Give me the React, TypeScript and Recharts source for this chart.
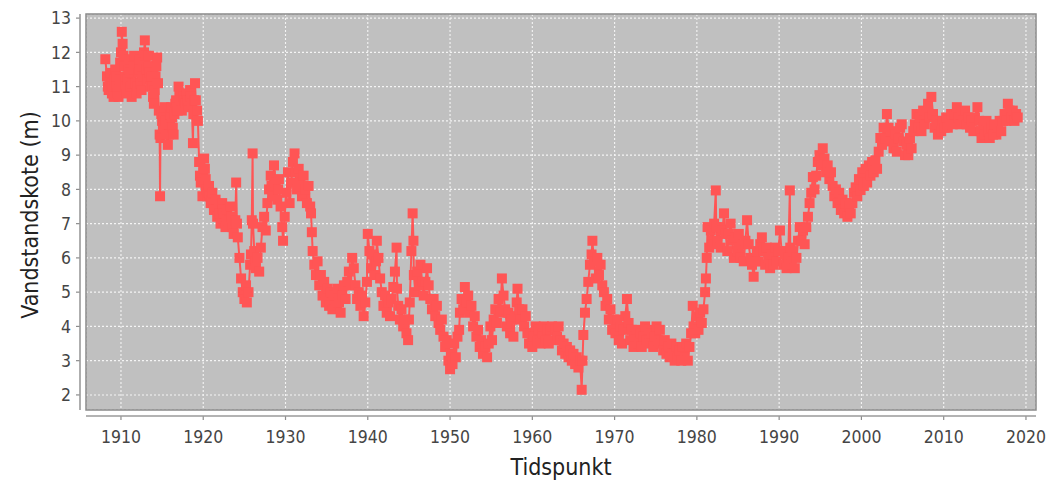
import React from 'react';
import { LineChart, Line, XAxis, YAxis, CartesianGrid } from 'recharts';

const W = 1062;
const H = 482;

const xTicks = [1910, 1920, 1930, 1940, 1950, 1960, 1970, 1980, 1990, 2000, 2010, 2020];
const yTicks = [2, 3, 4, 5, 6, 7, 8, 9, 10, 11, 12, 13];
const xDomain = [1905.75, 2021.22];
const yDomain = [1.56, 13.12];

const xTitle = 'Tidspunkt';
const yTitle = 'Vandstandskote (m)';

const d1900s = [[1908.1,11.8],[1908.3,11.3],[1908.4,11.0],[1908.5,10.9],[1908.6,11.2],[1908.7,11.4],[1908.8,11.1],[1908.9,10.8],[1909.0,11.0],[1909.1,10.7],[1909.2,11.2],[1909.3,11.5],[1909.4,11.3],[1909.5,11.0],[1909.6,10.8],[1909.7,10.7],[1909.8,11.2],[1909.9,11.7]];

const d1910s = [[1910.0,12.0],[1910.1,12.6],[1910.2,12.25],[1910.3,11.9],[1910.4,11.6],[1910.5,11.3],[1910.6,11.0],[1910.7,10.8],[1910.8,11.2],[1910.9,11.5],[1911.0,11.8],[1911.1,11.4],[1911.2,11.0],[1911.3,10.7],[1911.4,11.1],[1911.5,11.6],[1911.6,11.9],[1911.7,11.5],[1911.8,11.1],[1911.9,10.8],[1912.0,11.0],[1912.1,11.4],[1912.2,11.8],[1912.3,11.5],[1912.4,11.1],[1912.5,10.9],[1912.6,11.3],[1912.7,11.7],[1912.8,12.0],[1912.9,12.35],[1913.0,11.9],[1913.1,11.5],[1913.2,11.2],[1913.3,11.6],[1913.4,11.9],[1913.5,11.4],[1913.6,11.0],[1913.7,11.3],[1913.8,11.0],[1913.9,10.7],[1914.0,10.5],[1914.1,10.9],[1914.2,11.3],[1914.3,11.6],[1914.4,11.85],[1914.5,11.1],[1914.6,10.3],[1914.7,9.6],[1914.75,7.8],[1914.8,9.5],[1914.9,10.2],[1915.0,10.0],[1915.1,9.8],[1915.2,10.1],[1915.3,10.4],[1915.4,10.0],[1915.5,9.6],[1915.7,9.3],[1915.8,9.6],[1915.9,9.9],[1916.0,10.2],[1916.1,10.4],[1916.2,10.1],[1916.3,9.8],[1916.4,9.6],[1916.5,10.2],[1916.6,10.5],[1916.7,10.6],[1916.8,10.4],[1916.9,10.3],[1917.0,11.0],[1917.1,10.8],[1917.2,10.6],[1917.4,10.3],[1917.5,10.5],[1917.6,10.7],[1917.7,10.6],[1917.8,10.5],[1918.0,10.8],[1918.1,10.6],[1918.2,10.4],[1918.3,10.6],[1918.4,10.9],[1918.5,10.7],[1918.6,10.5],[1918.75,9.35],[1918.8,10.2],[1918.9,10.6],[1919.0,11.1],[1919.1,10.6],[1919.25,10.3],[1919.35,10.0],[1919.5,8.8],[1919.6,8.4],[1919.7,8.2],[1919.9,7.8]];

const d1920s = [[1920.0,8.5],[1920.1,8.9],[1920.2,8.6],[1920.3,8.3],[1920.4,8.0],[1920.5,7.8],[1920.6,7.9],[1920.7,8.1],[1920.8,7.8],[1920.9,7.6],[1921.0,7.7],[1921.1,7.9],[1921.2,7.6],[1921.3,7.4],[1921.5,7.7],[1921.6,7.4],[1921.7,7.2],[1921.9,7.5],[1922.0,7.3],[1922.1,7.0],[1922.3,7.6],[1922.4,7.4],[1922.5,7.3],[1922.7,6.9],[1922.8,7.2],[1922.9,7.4],[1923.1,7.1],[1923.3,7.5],[1923.4,7.2],[1923.5,6.9],[1923.7,6.7],[1923.9,7.1],[1924.0,8.2],[1924.1,7.0],[1924.2,6.6],[1924.4,6.0],[1924.6,5.4],[1924.8,5.0],[1925.0,4.8],[1925.2,5.2],[1925.3,4.7],[1925.5,5.0],[1925.7,5.8],[1925.8,6.1],[1925.9,7.1],[1926.0,9.05],[1926.05,7.0],[1926.2,6.2],[1926.3,5.9],[1926.4,5.7],[1926.6,6.0],[1926.8,5.6],[1927.0,6.3],[1927.2,6.9],[1927.4,7.2],[1927.6,6.8],[1927.8,7.6],[1928.0,8.0],[1928.2,8.4],[1928.3,8.1],[1928.4,7.8],[1928.6,8.7],[1928.8,8.2],[1929.0,7.7],[1929.1,8.0],[1929.2,8.3],[1929.4,7.5],[1929.6,6.9],[1929.7,6.5],[1929.9,7.2]];

const d1930s = [[1930.1,7.9],[1930.3,8.5],[1930.5,7.6],[1930.7,8.2],[1930.9,8.8],[1931.1,9.05],[1931.2,8.5],[1931.4,8.0],[1931.6,8.6],[1931.8,8.2],[1932.0,7.8],[1932.2,8.4],[1932.4,8.0],[1932.6,7.6],[1932.8,8.1],[1933.0,7.5],[1933.1,7.3],[1933.2,6.75],[1933.3,6.2],[1933.5,5.8],[1933.7,5.5],[1933.9,5.9],[1934.1,5.2],[1934.3,5.5],[1934.5,4.9],[1934.7,5.3],[1934.9,4.7],[1935.1,5.1],[1935.3,4.6],[1935.5,5.0],[1935.7,4.5],[1935.9,4.9],[1936.1,4.6],[1936.3,5.1],[1936.5,4.7],[1936.7,4.4],[1936.9,4.9],[1937.1,5.2],[1937.3,4.8],[1937.5,5.3],[1937.7,5.6],[1937.9,5.2],[1938.1,6.0],[1938.3,5.7],[1938.5,5.2],[1938.7,4.8],[1938.9,5.0],[1939.1,4.6],[1939.3,4.9],[1939.5,4.3],[1939.7,4.7],[1939.9,5.3]];

const d1940s = [[1940.0,6.7],[1940.2,6.2],[1940.4,5.7],[1940.6,6.1],[1940.8,5.5],[1941.0,5.9],[1941.1,6.5],[1941.3,6.0],[1941.5,5.4],[1941.7,5.0],[1941.9,4.6],[1942.1,4.9],[1942.3,4.4],[1942.5,4.7],[1942.7,4.3],[1942.9,4.8],[1943.1,5.15],[1943.3,5.6],[1943.5,6.3],[1943.55,5.1],[1943.7,4.6],[1943.9,4.2],[1944.1,4.5],[1944.3,4.0],[1944.5,4.2],[1944.7,3.8],[1944.9,3.6],[1945.0,4.2],[1945.1,4.7],[1945.3,6.2],[1945.45,7.3],[1945.55,6.5],[1945.6,5.5],[1945.8,5.0],[1946.0,5.6],[1946.2,5.2],[1946.4,5.8],[1946.6,5.3],[1946.8,4.9],[1947.0,5.3],[1947.2,5.7],[1947.4,5.2],[1947.6,4.8],[1947.8,4.5],[1948.0,4.8],[1948.2,4.3],[1948.4,4.6],[1948.6,4.1],[1948.8,3.9],[1949.0,4.2],[1949.2,3.7],[1949.4,3.4],[1949.6,3.6],[1949.8,3.0]];

const d1950s = [[1950.0,2.75],[1950.1,3.2],[1950.3,2.9],[1950.5,3.5],[1950.7,3.1],[1950.9,3.7],[1951.1,3.9],[1951.2,4.4],[1951.4,4.8],[1951.6,4.5],[1951.8,5.15],[1952.0,4.7],[1952.2,4.9],[1952.4,4.4],[1952.6,4.6],[1952.8,4.0],[1953.0,4.3],[1953.2,3.7],[1953.4,3.9],[1953.6,3.4],[1953.8,3.6],[1954.0,3.2],[1954.3,3.4],[1954.5,3.1],[1954.7,3.5],[1954.9,4.0],[1955.1,3.6],[1955.3,4.2],[1955.5,4.5],[1955.7,4.1],[1955.9,4.8],[1956.1,4.4],[1956.3,5.4],[1956.5,4.9],[1956.7,4.5],[1956.9,4.0],[1957.1,4.4],[1957.3,3.8],[1957.5,4.2],[1957.7,3.7],[1957.9,4.3],[1958.1,4.7],[1958.2,5.1],[1958.4,4.5],[1958.6,4.2],[1958.8,4.5],[1959.0,4.0],[1959.2,4.3],[1959.4,3.8],[1959.6,3.5],[1959.8,3.8]];

const d1960s = [[1960.0,3.4],[1960.2,3.7],[1960.4,4.0],[1960.6,3.6],[1960.8,3.9],[1961.0,3.5],[1961.2,3.8],[1961.4,4.0],[1961.6,3.6],[1961.8,3.9],[1962.0,3.5],[1962.2,3.9],[1962.4,4.0],[1962.6,3.6],[1962.8,3.9],[1963.0,3.7],[1963.2,4.0],[1963.4,3.6],[1963.6,3.3],[1963.8,3.5],[1964.0,3.2],[1964.2,3.4],[1964.4,3.1],[1964.6,3.3],[1964.8,3.0],[1965.0,3.2],[1965.2,2.9],[1965.4,3.1],[1965.6,2.8],[1965.8,3.0],[1966.0,2.15],[1966.1,3.0],[1966.2,3.75],[1966.4,4.4],[1966.6,4.8],[1966.8,5.3],[1967.0,5.8],[1967.2,6.1],[1967.3,6.5],[1967.5,5.9],[1967.7,5.4],[1967.9,6.0],[1968.1,5.5],[1968.3,5.8],[1968.5,5.2],[1968.7,5.0],[1968.9,4.6],[1969.1,4.8],[1969.3,4.2],[1969.5,4.5],[1969.7,3.9],[1969.9,4.2]];

const d1970s = [[1970.1,3.8],[1970.3,4.2],[1970.5,3.6],[1970.7,4.0],[1970.9,3.5],[1971.1,3.9],[1971.3,4.3],[1971.5,4.8],[1971.7,4.1],[1971.9,3.6],[1972.1,3.9],[1972.3,3.4],[1972.5,3.7],[1972.7,3.9],[1972.9,3.5],[1973.1,3.8],[1973.3,3.4],[1973.5,3.7],[1973.7,4.0],[1973.9,3.6],[1974.1,3.9],[1974.3,3.5],[1974.5,3.8],[1974.7,3.4],[1974.9,3.7],[1975.1,4.0],[1975.3,3.6],[1975.5,3.9],[1975.7,3.5],[1975.9,3.3],[1976.1,3.6],[1976.3,3.2],[1976.5,3.4],[1976.7,3.1],[1976.9,3.5],[1977.1,3.2],[1977.3,3.0],[1977.5,3.4],[1977.7,3.1],[1977.9,3.3],[1978.1,3.0],[1978.3,3.4],[1978.5,3.1],[1978.7,3.5],[1978.9,3.0],[1979.1,3.4],[1979.3,3.8],[1979.5,4.6],[1979.6,4.0],[1979.8,3.8]];

const d1980s = [[1980.0,4.3],[1980.2,3.9],[1980.4,4.4],[1980.6,4.1],[1980.8,4.5],[1981.0,5.0],[1981.1,5.4],[1981.2,6.0],[1981.3,6.9],[1981.5,6.3],[1981.7,6.8],[1981.9,6.4],[1982.1,7.0],[1982.3,7.97],[1982.35,6.9],[1982.5,6.5],[1982.7,6.9],[1982.9,6.3],[1983.1,6.8],[1983.3,7.3],[1983.5,6.7],[1983.7,6.2],[1983.9,6.7],[1984.1,7.0],[1984.3,6.5],[1984.5,6.0],[1984.7,6.6],[1984.9,6.2],[1985.1,6.7],[1985.3,6.0],[1985.5,6.4],[1985.7,5.9],[1985.9,6.5],[1986.1,7.1],[1986.3,6.4],[1986.5,6.0],[1986.7,5.8],[1986.9,5.45],[1987.1,5.9],[1987.3,6.2],[1987.5,5.9],[1987.7,6.4],[1987.9,6.6],[1988.1,6.2],[1988.3,5.8],[1988.5,6.3],[1988.7,6.0],[1988.9,5.7],[1989.1,6.1],[1989.3,5.8],[1989.5,6.3],[1989.7,5.9],[1989.9,6.2]];

const d1990s = [[1990.1,6.8],[1990.3,6.2],[1990.5,5.8],[1990.7,6.1],[1990.9,5.7],[1991.1,6.0],[1991.3,7.97],[1991.35,6.3],[1991.5,5.8],[1991.7,6.2],[1991.9,5.7],[1992.1,6.0],[1992.3,6.5],[1992.5,6.9],[1992.7,6.5],[1992.9,6.8],[1993.1,6.4],[1993.3,6.9],[1993.5,7.2],[1993.7,7.6],[1993.9,7.9],[1994.1,8.36],[1994.3,8.0],[1994.5,8.4],[1994.7,8.8],[1994.9,9.0],[1995.1,8.7],[1995.3,9.2],[1995.5,8.9],[1995.7,8.5],[1995.9,8.7],[1996.1,8.3],[1996.3,8.5],[1996.5,8.1],[1996.7,7.8],[1996.9,8.0],[1997.1,7.6],[1997.3,7.9],[1997.5,7.4],[1997.7,7.7],[1997.9,7.3],[1998.1,7.6],[1998.3,7.2],[1998.5,7.5],[1998.7,7.3],[1998.9,7.6],[1999.1,7.9],[1999.3,8.06],[1999.5,7.8],[1999.7,8.3],[1999.9,7.98]];

const d2000s = [[2000.1,8.5],[2000.3,8.1],[2000.5,8.6],[2000.7,8.2],[2000.9,8.7],[2001.1,8.4],[2001.3,8.8],[2001.5,8.5],[2001.7,8.85],[2001.9,8.6],[2002.1,9.1],[2002.3,9.5],[2002.5,9.3],[2002.7,9.8],[2002.9,9.5],[2003.1,10.2],[2003.3,9.8],[2003.5,9.4],[2003.7,9.7],[2003.9,9.2],[2004.1,9.6],[2004.3,9.1],[2004.5,9.5],[2004.7,9.8],[2004.9,9.9],[2005.1,9.4],[2005.3,9.0],[2005.5,9.3],[2005.7,9.0],[2005.9,9.5],[2006.1,9.2],[2006.3,9.7],[2006.5,9.9],[2006.7,10.2],[2006.9,9.8],[2007.1,10.1],[2007.3,9.7],[2007.5,10.3],[2007.7,9.9],[2007.9,10.2],[2008.1,10.5],[2008.3,10.1],[2008.5,10.7],[2008.7,10.2],[2008.9,9.8],[2009.1,10.0],[2009.3,9.6],[2009.5,9.9],[2009.7,9.7],[2009.9,10.0]];

const d2010s = [[2010.1,9.8],[2010.3,10.1],[2010.5,9.8],[2010.7,10.0],[2010.9,10.2],[2011.1,9.9],[2011.3,10.2],[2011.6,10.4],[2011.8,10.1],[2012.0,9.9],[2012.2,10.2],[2012.4,10.0],[2012.6,10.3],[2012.8,9.9],[2013.0,10.1],[2013.2,9.8],[2013.4,10.0],[2013.6,9.7],[2013.8,10.1],[2014.1,10.4],[2014.3,10.0],[2014.5,9.7],[2014.6,9.5],[2014.8,9.8],[2015.0,9.6],[2015.2,10.0],[2015.4,9.7],[2015.6,9.5],[2015.8,9.8],[2016.0,9.6],[2016.2,9.9],[2016.4,9.6],[2016.6,9.8],[2016.8,10.0],[2017.0,9.7],[2017.2,10.0],[2017.4,10.2],[2017.6,10.0],[2017.8,10.5],[2018.0,10.3],[2018.2,10.1],[2018.4,10.3],[2018.6,10.0],[2018.8,10.2],[2019.0,10.1]];

const data = [...d1900s, ...d1910s, ...d1920s, ...d1930s, ...d1940s, ...d1950s, ...d1960s, ...d1970s, ...d1980s, ...d1990s, ...d2000s, ...d2010s]
  .map(([t, v]) => ({ t, v }));

const SERIES = '#ff5555';
const FONT = '"DejaVu Sans Condensed", "DejaVu Sans", sans-serif';

const XTick = (props: any) => {
  const { x, y, payload } = props;
  return (
    <g>
      <line x1={x} x2={x} y1={y + 6} y2={y + 10} stroke="#8c8c8c" strokeWidth={1.2} />
      <text x={x} y={y + 33} textAnchor="middle" fontFamily={FONT} fontSize={17.5} fill="#454545">
        {payload.value}
      </text>
    </g>
  );
};

const YTick = (props: any) => {
  const { x, y, payload } = props;
  return (
    <g>
      <line x1={x - 10} x2={x - 6} y1={y} y2={y} stroke="#8c8c8c" strokeWidth={1.2} />
      <text x={x - 15} y={y} dy="0.36em" textAnchor="end" fontFamily={FONT} fontSize={17.5} fill="#454545">
        {payload.value}
      </text>
    </g>
  );
};

const Square = (props: any) => {
  const { cx, cy, index } = props;
  if (cx == null || cy == null) return <g key={index} />;
  return <rect key={index} x={cx - 5} y={cy - 5} width={10} height={10} fill={SERIES} />;
};

export default function App() {
  const left = 86, top = 14, right = 1036, bottom = 410;
  return (
    <div style={{ position: 'absolute', left: 0, top: 0, width: W, height: H, background: '#ffffff' }}>
      <LineChart width={W} height={H} data={data} margin={{ top: 14, right: 26, bottom: 0, left: 0 }}>
        <CartesianGrid fill="#c0c0c0" stroke="#f4f4f4" strokeDasharray="2 2" strokeWidth={1.1} />
        <XAxis
          dataKey="t"
          type="number"
          domain={xDomain}
          ticks={xTicks}
          allowDataOverflow
          height={72}
          axisLine={false}
          tickLine={false}
          tickSize={0}
          tickMargin={0}
          tick={<XTick />}
          interval={0}
        />
        <YAxis
          dataKey="v"
          type="number"
          domain={yDomain}
          ticks={yTicks}
          allowDataOverflow
          width={86}
          axisLine={false}
          tickLine={false}
          tickSize={0}
          tickMargin={0}
          tick={<YTick />}
          interval={0}
        />
        <Line
          type="linear"
          dataKey="v"
          stroke={SERIES}
          strokeWidth={2}
          dot={Square}
          activeDot={false}
          isAnimationActive={false}
        />
      </LineChart>
      <svg width={W} height={H} style={{ position: 'absolute', left: 0, top: 0, pointerEvents: 'none' }}>
        <rect x={left} y={top} width={right - left} height={bottom - top} fill="none" stroke="#8a8a8a" strokeWidth={1.5} />
        <line x1={80} x2={80} y1={top} y2={bottom} stroke="#9a9a9a" strokeWidth={1.6} />
        <line x1={left} x2={right} y1={416} y2={416} stroke="#9a9a9a" strokeWidth={1.6} />
        <text x={561} y={475} textAnchor="middle" fontFamily={FONT} fontSize={23} fill="#222222">
          {xTitle}
        </text>
        <text
          x={0}
          y={0}
          transform="translate(30,215) rotate(-90)"
          textAnchor="middle"
          dominantBaseline="central"
          fontFamily={FONT}
          fontSize={23}
          fill="#222222"
        >
          {yTitle}
        </text>
      </svg>
    </div>
  );
}
